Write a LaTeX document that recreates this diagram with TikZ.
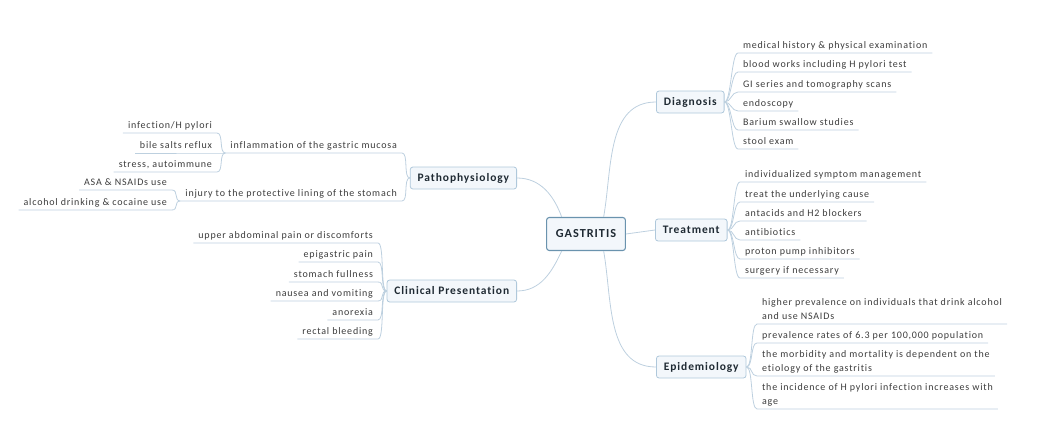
\documentclass[tikz,border=0pt]{standalone}
\usepackage{fontspec}
\setmainfont{Carlito}[LetterSpace=8, Ligatures=CommonOff]
\usepackage{xcolor}
\usepackage{tikz}
\definecolor{boxfill}{HTML}{F3F7FB}
\definecolor{rootline}{HTML}{6A93AE}
\definecolor{topicline}{HTML}{AFC8DB}
\definecolor{linecol}{HTML}{BDD0DF}
\definecolor{leaftext}{HTML}{3C3C3C}
\definecolor{topictext}{HTML}{1F2A33}
\tikzset{
  rootBox/.style={draw=rootline, fill=boxfill, rounded corners=2pt, line width=0.8pt,
    font=\fontsize{9.2}{11}\selectfont\bfseries, text=topictext, minimum height=24.75pt, inner xsep=7pt},
  topicBox/.style={draw=topicline, fill=boxfill, rounded corners=2pt, line width=0.6pt,
    font=\fontsize{8.6}{10}\selectfont\bfseries, text=topictext, minimum height=16.5pt, inner xsep=5.6pt},
  leafLbl/.style={font=\fontsize{7.5}{10.5}\selectfont, text=leaftext, align=left,
    inner xsep=3.6pt, inner ysep=1pt, text depth=0.25em},
  branch/.style={draw=linecol, line width=0.6pt},
  rFan/.style={out=0, in=180, out distance=5pt, in distance=5pt},
  lFan/.style={out=180, in=0, out distance=5pt, in distance=5pt},
}

\begin{document}
\begin{tikzpicture}[x=0.75pt, y=-0.75pt]
  \useasboundingbox (0,0) rectangle (1038,435);

  % main topics
  \node[rootBox] (root) at (586,234) {GASTRITIS};
  \node[topicBox, anchor=west] (diag)  at (656,102) {Diagnosis};
  \node[topicBox, anchor=west] (treat) at (655,230) {Treatment};
  \node[topicBox, anchor=west] (epi)   at (656,367) {Epidemiology};
  \node[topicBox, anchor=east] (patho) at (517,178) {Pathophysiology};
  \node[topicBox, anchor=east] (clin)  at (517,291) {Clinical Presentation};

  \draw[branch] (root.44)   to[out=80, in=180]   (diag.west);
  \draw[branch] (root.east) --                    (treat.west);
  \draw[branch] (root.-44)  to[out=-80, in=180]  (epi.west);
  \draw[branch] (root.145)  to[out=110, in=0]    (patho.east);
  \draw[branch] (root.-145) to[out=-115, in=0]   (clin.east);

  % diagnosis
  \node[leafLbl, anchor=south west] (dg1) at (738,53)  {medical history \& physical examination};
  \node[leafLbl, anchor=south west] (dg2) at (738,72)  {blood works including H pylori test};
  \node[leafLbl, anchor=south west] (dg3) at (738,92)  {GI series and tomography scans};
  \node[leafLbl, anchor=south west] (dg4) at (738,111) {endoscopy};
  \node[leafLbl, anchor=south west] (dg5) at (738,130) {Barium swallow studies};
  \node[leafLbl, anchor=south west] (dg6) at (738,149) {stool exam};

  % treatment
  \node[leafLbl, anchor=south west] (tr1) at (740,182) {individualized symptom management};
  \node[leafLbl, anchor=south west] (tr2) at (740,202) {treat the underlying cause};
  \node[leafLbl, anchor=south west] (tr3) at (740,221) {antacids and H2 blockers};
  \node[leafLbl, anchor=south west] (tr4) at (740,240) {antibiotics};
  \node[leafLbl, anchor=south west] (tr5) at (740,259) {proton pump inhibitors};
  \node[leafLbl, anchor=south west] (tr6) at (740,278) {surgery if necessary};

  % epidemiology
  \node[leafLbl, anchor=south west] (ep1) at (757,324) {higher prevalence on individuals that drink alcohol\\and use NSAIDs};
  \node[leafLbl, anchor=south west] (ep2) at (757,343) {prevalence rates of 6.3 per 100,000 population};
  \node[leafLbl, anchor=south west] (ep3) at (757,376) {the morbidity and mortality is dependent on the\\etiology of the gastritis};
  \node[leafLbl, anchor=south west] (ep4) at (757,409) {the incidence of H pylori infection increases with\\age};

  \foreach \n in {dg1,dg2,dg3,dg4,dg5,dg6}
    \draw[branch] (diag.east) to[rFan] (\n.south west) -- (\n.south east);
  \foreach \n in {tr1,tr2,tr3,tr4,tr5,tr6}
    \draw[branch] (treat.east) to[rFan] (\n.south west) -- (\n.south east);
  \foreach \n in {ep1,ep2,ep3,ep4}
    \draw[branch] (epi.east) to[rFan] (\n.south west) -- (\n.south east);

  % pathophysiology
  \node[leafLbl, anchor=south east] (inf) at (402,153) {inflammation of the gastric mucosa};
  \node[leafLbl, anchor=south east] (inj) at (402,201) {injury to the protective lining of the stomach};
  \node[leafLbl, anchor=south east] (in1) at (217,133) {infection/H pylori};
  \node[leafLbl, anchor=south east] (in2) at (217,153) {bile salts reflux};
  \node[leafLbl, anchor=south east] (in3) at (217,172) {stress, autoimmune};
  \node[leafLbl, anchor=south east] (ij1) at (172,190) {ASA \& NSAIDs use};
  \node[leafLbl, anchor=south east] (ij2) at (172,210) {alcohol drinking \& cocaine use};

  \foreach \n in {inf,inj}
    \draw[branch] (patho.west) to[lFan] (\n.south east) -- (\n.south west);
  \foreach \n in {in1,in2,in3}
    \draw[branch] (inf.south west) to[lFan] (\n.south east) -- (\n.south west);
  \foreach \n in {ij1,ij2}
    \draw[branch] (inj.south west) to[lFan] (\n.south east) -- (\n.south west);

  % clinical presentation
  \node[leafLbl, anchor=south east] (cp1) at (378,243) {upper abdominal pain or discomforts};
  \node[leafLbl, anchor=south east] (cp2) at (378,262) {epigastric pain};
  \node[leafLbl, anchor=south east] (cp3) at (378,282) {stomach fullness};
  \node[leafLbl, anchor=south east] (cp4) at (378,301) {nausea and vomiting};
  \node[leafLbl, anchor=south east] (cp5) at (378,320) {anorexia};
  \node[leafLbl, anchor=south east] (cp6) at (378,339) {rectal bleeding};

  \foreach \n in {cp1,cp2,cp3,cp4,cp5,cp6}
    \draw[branch] (clin.west) to[lFan] (\n.south east) -- (\n.south west);
\end{tikzpicture}
\end{document}
